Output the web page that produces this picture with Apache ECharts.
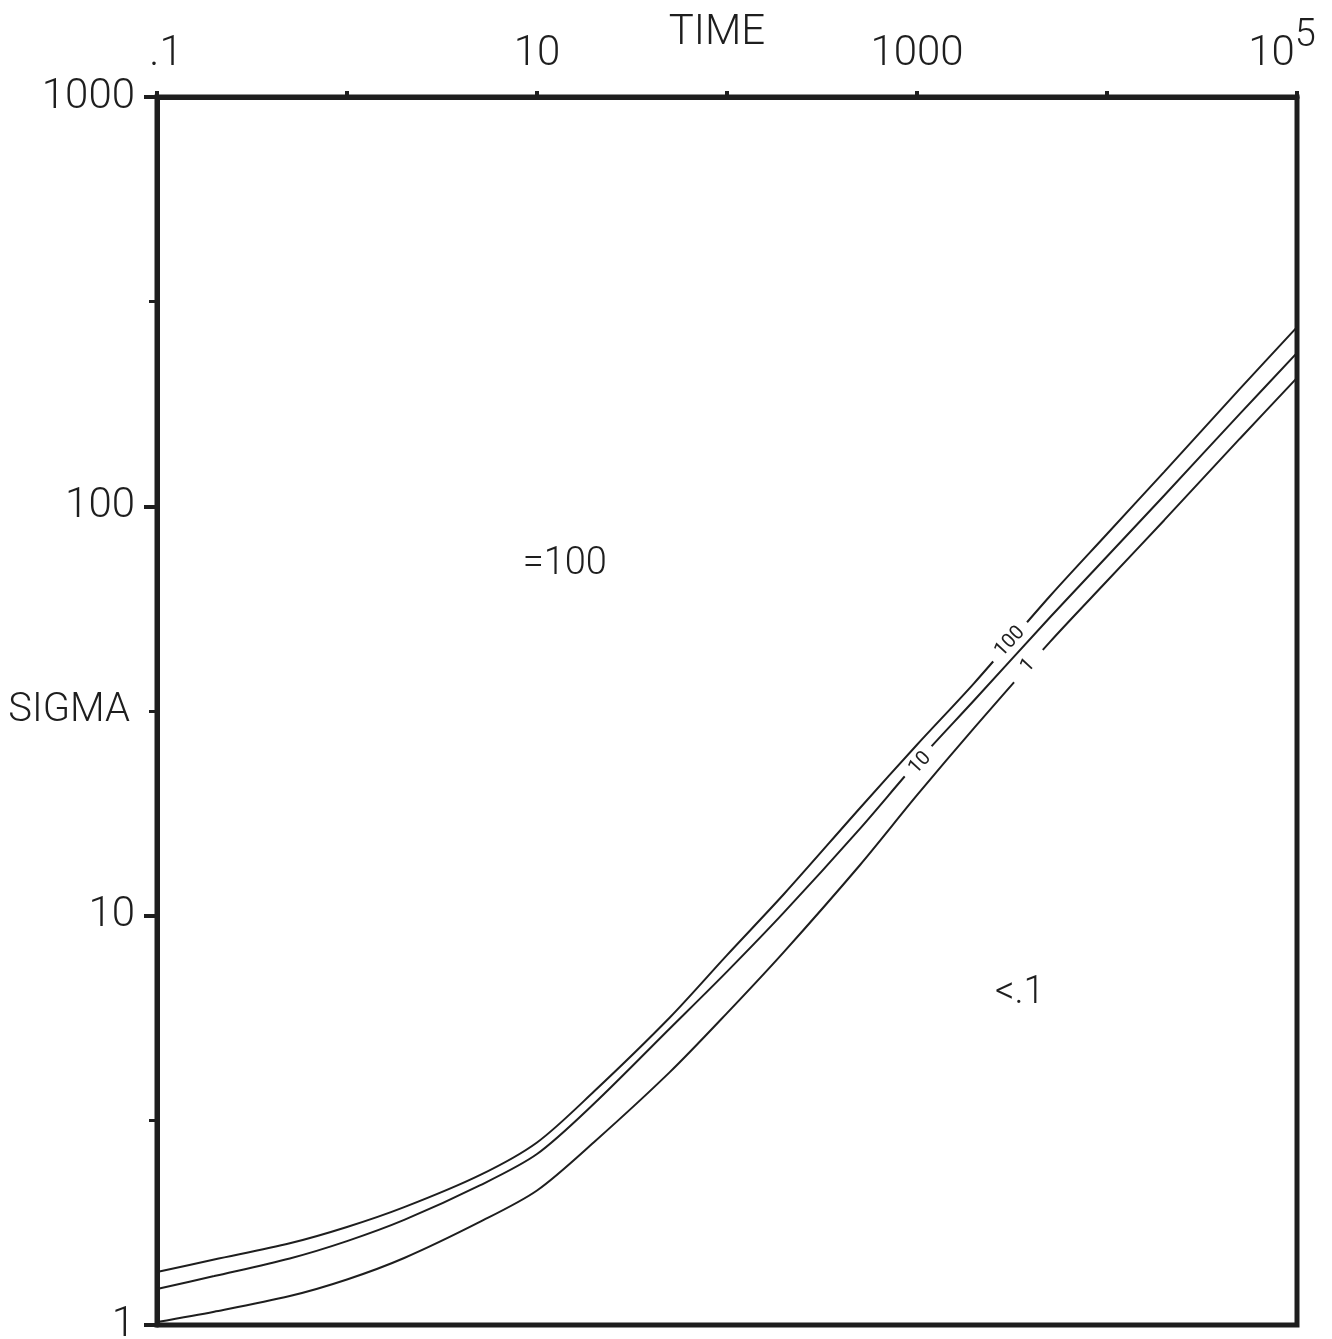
<!DOCTYPE html>
<html>
<head>
<meta charset="utf-8">
<script src="https://cdn.jsdelivr.net/npm/echarts@6/dist/echarts.min.js"></script>
<style>
  html, body { margin: 0; padding: 0; background: #fff; }
  #chart { width: 1332px; height: 1339px; }
</style>
</head>
<body>
<div id="chart"></div>
<script>
// time grid shared by the three curves
var times = [0.1, 0.2, 0.5, 1, 2, 5, 10, 20, 50, 100, 200, 500, 1000, 2000, 5000, 1e4, 2e4, 5e4, 1e5];

// sigma, one list per curve
var sigma100 = [1.347, 1.445, 1.583, 1.735, 1.940, 2.323, 2.792, 3.724, 5.64, 8.01, 11.31, 18.30, 26.16, 37.0, 60.3, 85.6, 121.4, 193.6, 274];
var sigma10  = [1.224, 1.317, 1.454, 1.603, 1.806, 2.193, 2.616, 3.476, 5.30, 7.30, 10.20, 16.30, 23.70, 33.60, 53.5, 75.4, 106.3, 168.2, 237];
var sigma1   = [1.017, 1.078, 1.177, 1.292, 1.458, 1.786, 2.131, 2.800, 4.147, 5.78, 8.17, 13.28, 19.69, 28.76, 46.6, 65.7, 92.5, 146.3, 206];

// labels written in the gaps of each curve: [time, sigma, text]
var curveNotes = [
  [3085, 46.7, '100'],
  [1037, 23.6, '10'],
  [3839, 40.8, '1']
];

// free text inside the plot
var plotNotes = [
  [14.0, 71.9, '=100'],
  [3480, 6.47, '<.1']
];

// tick labels
var xLabelExps = [-1, 1, 3, 5];
var xLabelTexts = ['{s|.1}', '10', '1000', '{b|10}{sup|5}'];
var yLabelExps = [0, 1, 2, 3];
var yLabelTexts = ['1', '10', '100', '1000'];

var INK = '#1e1e1e';
var FONT = 'Roboto';

function pairs(ys) {
  return times.map(function(t, i) { return [t, ys[i]]; });
}

function curve(name, ys, note) {
  return {
    name: name,
    type: 'line',
    data: pairs(ys),
    showSymbol: false,
    smooth: 0.3,
    lineStyle: { color: INK, width: 2 },
    markPoint: {
      symbol: 'circle',
      symbolSize: 0,
      data: [{ coord: [note[0], note[1]], value: note[2] }],
      label: {
        show: true,
        position: 'inside',
        formatter: note[2],
        rotate: 47,
        color: INK,
        fontFamily: FONT,
        fontSize: 20,
        lineHeight: 14,
        backgroundColor: '#fff',
        padding: [0, note[2].length === 1 ? 16 : 9]
      }
    }
  };
}

var chart = echarts.init(document.getElementById('chart'));

var option = {
  animation: false,
  backgroundColor: '#fff',
  grid: {
    left: 157, right: 35, top: 97, bottom: 14,
    containLabel: false,
    outerBoundsMode: 'none',
    show: true,
    borderColor: INK,
    borderWidth: 5
  },
  xAxis: {
    type: 'log',
    logBase: 10,
    min: 0.1,
    max: 1e5,
    position: 'top',
    name: 'TIME',
    nameLocation: 'middle',
    nameGap: 43,
    nameMoveOverlap: false,
    nameTextStyle: { color: INK, fontFamily: FONT, fontWeight: 300, fontSize: 42, padding: [0, 20, 0, 0] },
    axisLine: { show: true, onZero: false, lineStyle: { color: INK, width: 5 } },
    axisTick: { show: true, length: 6, lineStyle: { color: INK, width: 4 } },
    splitLine: { show: false },
    axisLabel: {
      margin: 22,
      showMinLabel: true,
      showMaxLabel: true,
      color: INK,
      fontFamily: FONT,
      fontWeight: 300,
      fontSize: 42,
      formatter: function(v) {
        var k = xLabelExps.indexOf(Math.round(Math.log10(v)));
        return k < 0 ? '' : xLabelTexts[k];
      },
      rich: {
        s: { fontFamily: FONT, fontWeight: 300, fontSize: 42, color: INK, padding: [0, 0, 0, 18] },
        b: { fontFamily: FONT, fontWeight: 300, fontSize: 42, color: INK, verticalAlign: 'bottom' },
        sup: { fontFamily: FONT, fontWeight: 300, fontSize: 38, color: INK, padding: [0, 30, 20, 0], verticalAlign: 'bottom' }
      }
    }
  },
  yAxis: [
    {
      type: 'log',
      logBase: 10,
      min: 1,
      max: 1000,
      position: 'left',
      name: 'SIGMA',
      nameLocation: 'middle',
      nameRotate: 0,
      nameGap: 27,
      nameMoveOverlap: false,
      nameTextStyle: { color: INK, fontFamily: FONT, fontWeight: 300, fontSize: 40 },
      axisLine: { show: true, onZero: false, lineStyle: { color: INK, width: 5 } },
      axisTick: { show: true, length: 13, lineStyle: { color: INK, width: 4 } },
      splitLine: { show: false },
      axisLabel: {
        margin: 22,
        showMinLabel: true,
        showMaxLabel: true,
        color: INK,
        fontFamily: FONT,
        fontWeight: 300,
        fontSize: 42,
        formatter: function(v) {
          var k = yLabelExps.indexOf(Math.round(Math.log10(v)));
          return k < 0 ? '' : yLabelTexts[k];
        }
      }
    },
    {
      // half-decade ticks only, in log10 units
      type: 'value',
      min: 0,
      max: 3,
      interval: 0.5,
      position: 'left',
      axisLine: { show: false, onZero: false },
      axisTick: { show: true, length: 8, lineStyle: { color: INK, width: 3 } },
      axisLabel: { show: false },
      splitLine: { show: false }
    }
  ],
  series: [
    curve('100', sigma100, curveNotes[0]),
    curve('10', sigma10, curveNotes[1]),
    curve('1', sigma1, curveNotes[2]),
    {
      name: 'notes',
      type: 'scatter',
      symbolSize: 0,
      itemStyle: { opacity: 1 },
      data: plotNotes.map(function(n) { return { value: [n[0], n[1]], name: n[2] }; }),
      label: {
        show: true,
        position: 'inside',
        formatter: function(p) { return p.name; },
        color: INK,
        fontFamily: FONT,
        fontWeight: 300,
        fontSize: 38
      }
    }
  ]
};

chart.setOption(option);

window.addEventListener('resize', function() {
  chart.resize();
});
</script>
</body>
</html>
